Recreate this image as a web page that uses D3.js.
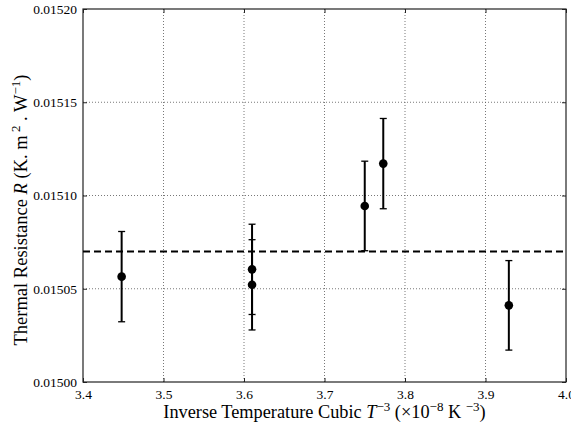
<html>
<head>
<script src="https://d3js.org/d3.v7.min.js"></script>
<style>
    body { margin: 0; background: #fff; }
    svg text { font-family: "Liberation Serif", "DejaVu Serif", serif; fill: #000; }
    .grid line { stroke: #555; stroke-width: 0.8px; stroke-dasharray: 1, 2; }
    .frame { fill: none; stroke: #222; stroke-width: 1.2px; }
    .mean-line { stroke: #000; stroke-width: 2px; stroke-dasharray: 7, 4; }
    .err { stroke: #000; stroke-width: 2px; }
    .cap { stroke: #000; stroke-width: 1.3px; }
    .dot { fill: #000; }
</style>
</head>
<body>
<svg id="the-chart" width="571" height="429"></svg>
<script>
    // measured values
    var xs = [3.448, 3.610, 3.610, 3.750, 3.773, 3.929];
    var ys = [0.0150565, 0.0150604, 0.0150521, 0.0150944, 0.0151171, 0.0150411];
    var errs = [0.0000242, 0.0000242, 0.0000242, 0.0000240, 0.0000242, 0.0000240];
    var meanR = 0.015070;

    var xTicks = [3.4, 3.5, 3.6, 3.7, 3.8, 3.9, 4.0];
    var yTicks = [0.01500, 0.01505, 0.01510, 0.01515, 0.01520];

    var svg = d3.select('#the-chart');
    var margin = { top: 9, right: 5, bottom: 47, left: 83 };
    var width = +svg.attr('width') - margin.left - margin.right;
    var height = +svg.attr('height') - margin.top - margin.bottom;
    var g = svg.append('g')
        .attr('transform', 'translate(' + margin.left + ',' + margin.top + ')');

    var xscale = d3.scaleLinear().domain([3.4, 4.0]).range([0, width]);
    var yscale = d3.scaleLinear().domain([0.01500, 0.01520]).range([height, 0]);

    // dotted grid
    var grid = g.append('g').attr('class', 'grid');
    grid.selectAll('.gx').data(xTicks.slice(1, -1)).enter().append('line')
        .attr('x1', d => xscale(d)).attr('x2', d => xscale(d))
        .attr('y1', 0).attr('y2', height);
    grid.selectAll('.gy').data(yTicks.slice(1, -1)).enter().append('line')
        .attr('y1', d => yscale(d)).attr('y2', d => yscale(d))
        .attr('x1', 0).attr('x2', width);

    // axes with inward ticks on all sides
    var xb = g.append('g').attr('transform', 'translate(0,' + height + ')')
        .call(d3.axisBottom(xscale).tickValues(xTicks).tickSizeInner(-4).tickSizeOuter(0)
            .tickPadding(7).tickFormat(d3.format('.1f')));
    var xt = g.append('g')
        .call(d3.axisTop(xscale).tickValues(xTicks).tickSizeInner(-4).tickSizeOuter(0).tickFormat(''));
    var yl = g.append('g')
        .call(d3.axisLeft(yscale).tickValues(yTicks).tickSizeInner(-4).tickSizeOuter(0)
            .tickPadding(6).tickFormat(d3.format('.5f')));
    var yr = g.append('g').attr('transform', 'translate(' + width + ',0)')
        .call(d3.axisRight(yscale).tickValues(yTicks).tickSizeInner(-4).tickSizeOuter(0).tickFormat(''));
    [xb, xt, yl, yr].forEach(function (a) {
        a.attr('font-family', null).attr('font-size', null);
        a.select('.domain').remove();
        a.selectAll('line').attr('stroke', '#222');
        a.selectAll('text').style('font-size', '13.5px').style('font-family', '"Liberation Serif", serif');
    });

    g.append('rect').attr('class', 'frame')
        .attr('x', 0).attr('y', 0).attr('width', width).attr('height', height);

    // mean line
    g.append('line').attr('class', 'mean-line')
        .attr('x1', 0).attr('x2', width)
        .attr('y1', yscale(meanR)).attr('y2', yscale(meanR));

    // error bars
    var pts = xs.map((x, i) => ({ x: x, y: ys[i], e: errs[i] }));
    var eb = g.append('g');
    eb.selectAll('.err').data(pts).enter().append('line').attr('class', 'err')
        .attr('x1', d => xscale(d.x)).attr('x2', d => xscale(d.x))
        .attr('y1', d => yscale(d.y - d.e)).attr('y2', d => yscale(d.y + d.e));
    var caps = [];
    pts.forEach(function (d) { caps.push({ x: d.x, y: d.y - d.e }); caps.push({ x: d.x, y: d.y + d.e }); });
    eb.selectAll('.cap').data(caps).enter().append('line').attr('class', 'cap')
        .attr('x1', d => xscale(d.x) - 3.5).attr('x2', d => xscale(d.x) + 3.5)
        .attr('y1', d => yscale(d.y)).attr('y2', d => yscale(d.y));
    eb.selectAll('.dot').data(pts).enter().append('circle').attr('class', 'dot')
        .attr('cx', d => xscale(d.x)).attr('cy', d => yscale(d.y)).attr('r', 4.3);

    // axis labels
    var xlab = svg.append('text')
        .attr('x', margin.left + width / 2).attr('y', 418)
        .attr('text-anchor', 'middle').style('font-size', '18.3px');
    xlab.append('tspan').text('Inverse Temperature Cubic ');
    xlab.append('tspan').attr('font-style', 'italic').text('T');
    xlab.append('tspan').style('font-size', '13px').attr('dy', -7).text('\u22123');
    xlab.append('tspan').attr('dy', 7).text(' (\u00d710');
    xlab.append('tspan').style('font-size', '13px').attr('dy', -7).text('\u22128');
    xlab.append('tspan').attr('dy', 7).text(' K ');
    xlab.append('tspan').style('font-size', '13px').attr('dy', -7).text('\u22123');
    xlab.append('tspan').attr('dy', 7).text(')');

    var ylab = svg.append('text')
        .attr('transform', 'translate(27,' + 210 + ') rotate(-90)')
        .attr('text-anchor', 'middle').style('font-size', '18.5px');
    ylab.append('tspan').text('Thermal Resistance ');
    ylab.append('tspan').attr('font-style', 'italic').text('R');
    ylab.append('tspan').text(' (K. m');
    ylab.append('tspan').style('font-size', '13px').attr('dy', -7).text(' 2');
    ylab.append('tspan').attr('dy', 7).text(' . W');
    ylab.append('tspan').style('font-size', '13px').attr('dy', -7).text('\u22121');
    ylab.append('tspan').attr('dy', 7).text(')');
</script>
</body>
</html>
